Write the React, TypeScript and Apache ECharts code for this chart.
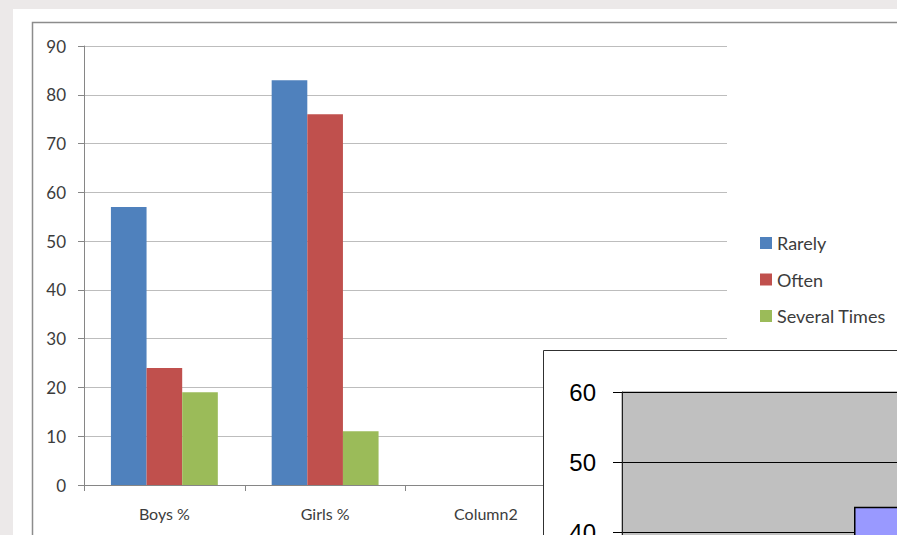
import React, { useEffect, useRef } from "react";
import * as echarts from "echarts";

const categories = ["Boys %", "Girls %", "Column2", ""];
const rarely = [57, 83, null, null];
const often = [24, 76, null, null];
const severalTimes = [19, 11, null, null];
const seriesNames = ["Rarely", "Often", "Several Times"];
const seriesColors = ["#4F81BD", "#C0504D", "#9BBB59"];

const overlayCategories = ["", "", ""];
const overlayValues = [null, 43.6, null];

export default function App() {
  const ref = useRef<HTMLDivElement>(null);
  useEffect(() => {
    if (!ref.current) return;
    const chart = echarts.init(ref.current, undefined, { renderer: "svg" });
    const font = "Lato";
    const txt = "#3c3c3c";
    const data = [rarely, often, severalTimes];
    chart.setOption({
      animation: false,
      backgroundColor: "#ece9e9",
      graphic: [
        { type: "rect", z: -10, shape: { x: 13, y: 9, width: 900, height: 540 }, style: { fill: "#ffffff" } },
        { type: "rect", z: -9, shape: { x: 32.5, y: 22.5, width: 900, height: 540 }, style: { fill: "none", stroke: "#8c8c8c", lineWidth: 1.5 } },
        { type: "rect", z: 10, shape: { x: 543.5, y: 350.5, width: 400, height: 300 }, style: { fill: "#ffffff", stroke: "#303030", lineWidth: 1 } },
      ],
      legend: {
        orient: "vertical",
        left: 760,
        top: 234,
        padding: 0,
        itemWidth: 12,
        itemHeight: 12,
        itemGap: 18.5,
        icon: "rect",
        data: seriesNames,
        textStyle: { fontFamily: font, fontSize: 18, color: txt, lineHeight: 18 },
      },
      grid: [
        { left: 84, top: 46, width: 643, height: 439, outerBoundsMode: "none", containLabel: false },
        {
          left: 622, top: 392, width: 600, height: 420, show: true, z: 11,
          outerBoundsMode: "none", containLabel: false,
          backgroundColor: "#c0c0c0", borderColor: "#808080", borderWidth: 1,
        },
      ],
      xAxis: [
        {
          type: "category", gridIndex: 0, data: categories,
          axisLine: { lineStyle: { color: "#868686" } },
          axisTick: { show: true, length: 6, lineStyle: { color: "#868686" } },
          axisLabel: { fontFamily: font, fontSize: 16, color: txt, margin: 20 },
        },
        {
          type: "category", gridIndex: 1, data: overlayCategories, z: 12,
          axisLine: { show: false }, axisTick: { show: false }, axisLabel: { show: false },
        },
      ],
      yAxis: [
        {
          type: "value", gridIndex: 0, min: 0, max: 90, interval: 10,
          axisLine: { show: true, lineStyle: { color: "#868686" } },
          axisTick: { show: true, length: 6, lineStyle: { color: "#868686" } },
          axisLabel: { fontFamily: font, fontSize: 17, color: txt, margin: 18 },
          splitLine: { lineStyle: { color: "#bdbdbd", width: 1.2 } },
        },
        {
          type: "value", gridIndex: 1, min: 0, max: 60, interval: 10, z: 12,
          axisLine: { show: true, lineStyle: { color: "#202020" } },
          axisTick: { show: true, length: 9, lineStyle: { color: "#000000" } },
          axisLabel: {
            fontFamily: "Liberation Sans", fontSize: 24, color: "#000000", margin: 26,
            formatter: (v: number) => (v >= 40 ? String(v) : ""),
          },
          splitLine: { lineStyle: { color: "#000000", width: 1 } },
        },
      ],
      series: [
        ...seriesNames.map((name, i) => ({
          type: "bar",
          name,
          xAxisIndex: 0,
          yAxisIndex: 0,
          data: data[i],
          barGap: "0%",
          barCategoryGap: "33.5%",
          itemStyle: { color: seriesColors[i] },
        })),
        {
          type: "bar",
          name: "overlay",
          xAxisIndex: 1,
          yAxisIndex: 1,
          z: 13,
          data: overlayValues,
          barWidth: 136,
          itemStyle: { color: "#9999ff", borderColor: "#000000", borderWidth: 1.5 },
        },
      ],
    });
    return () => chart.dispose();
  }, []);
  return (
    <div
      ref={ref}
      style={{ position: "absolute", left: 0, top: 0, width: 897, height: 535 }}
    />
  );
}
